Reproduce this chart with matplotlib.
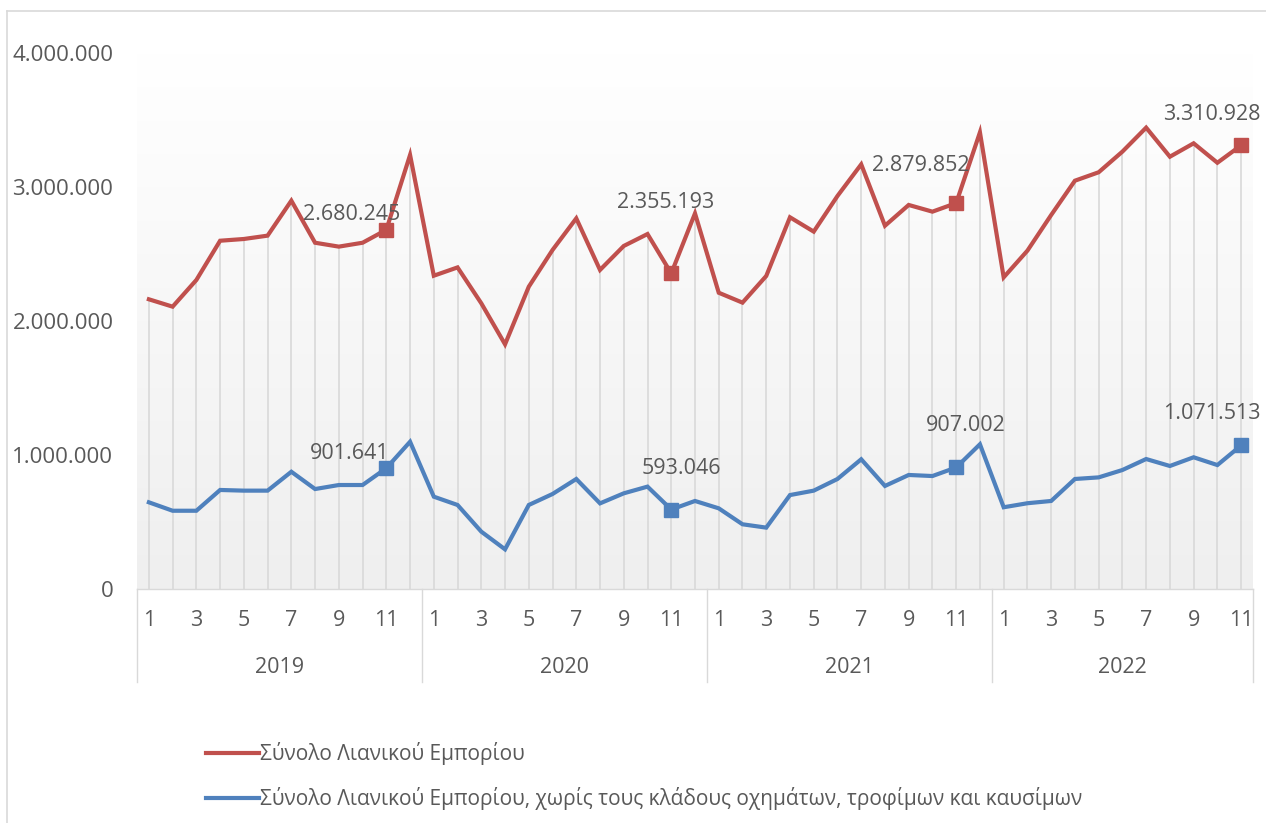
import matplotlib
matplotlib.use("Agg")
import matplotlib.pyplot as plt
import numpy as np
from matplotlib.colors import LinearSegmentedColormap
from matplotlib.lines import Line2D

plt.rcParams["font.family"] = ["Open Sans", "DejaVu Sans"]

# Monthly values, Jan 2019 - Nov 2022
years = ["2019", "2020", "2021", "2022"]
months_per_year = [12, 12, 12, 11]

total_retail = [
    2162000, 2107000, 2306000, 2599000, 2612000, 2637000, 2898000, 2584000, 2555000, 2584000, 2680245, 3239000,
    2338000, 2400000, 2132000, 1826000, 2256000, 2530000, 2766000, 2381000, 2560000, 2649000, 2355193, 2803000,
    2211000, 2137000, 2336000, 2774000, 2667000, 2933000, 3169000, 2711000, 2866000, 2816000, 2879852, 3408000,
    2326000, 2525000, 2791000, 3047000, 3110000, 3264000, 3443000, 3226000, 3326000, 3181000, 3310928,
]
retail_excl = [
    647000, 584000, 584000, 739000, 734000, 734000, 875000, 746000, 776000, 776000, 901641, 1099000,
    689000, 627000, 428000, 296000, 627000, 709000, 821000, 639000, 714000, 764000, 593046, 657000,
    602000, 483000, 458000, 701000, 734000, 821000, 968000, 769000, 851000, 843000, 907002, 1080000,
    610000, 640000, 657000, 821000, 833000, 888000, 970000, 918000, 983000, 925000, 1071513,
]
labels = [
    "Σύνολο Λιανικού Εμπορίου",
    "Σύνολο Λιανικού Εμπορίου, χωρίς τους κλάδους οχημάτων, τροφίμων και καυσίμων",
]
y_ticks = [0, 1000000, 2000000, 3000000, 4000000]

# November of each year gets a marker and a value label
highlight_idx = [10, 22, 34, 46]
red_offsets = [(-35, 15), (-6, 71), (-35, 38), (-29, 31)]
blue_offsets = [(-37, 15), (10, 41), (10, 42), (-29, 32)]

RED = "#c0504d"
BLUE = "#4f81bd"
GRID = "#d9d9d9"
TEXT = "#595959"
FS = 15.5


def fmt(v):
    return f"{v:,.0f}".replace(",", ".")


W, H = 1266, 823
fig = plt.figure(figsize=(W / 100, H / 100), dpi=100)
ax = fig.add_axes([137 / W, (H - 589) / H, (1253 - 137) / W, (589 - 53) / H])

n = len(total_retail)
x = np.arange(n)
month_nums = [m + 1 for y, c in zip(years, months_per_year) for m in range(c)]

# soft vertical gradient in the plot area
grad = np.linspace(0, 1, 256).reshape(-1, 1)
cmap = LinearSegmentedColormap.from_list("bg", ["#efefef", "#ffffff"])
ax.imshow(grad, extent=[0, 1, 0, 1], transform=ax.transAxes, cmap=cmap,
          aspect="auto", origin="lower", zorder=0)

ax.vlines(x, 0, total_retail, color=GRID, lw=1.2, zorder=1)
ax.plot(x, total_retail, color=RED, lw=3.0, solid_joinstyle="miter", zorder=3, label=labels[0])
ax.plot(x, retail_excl, color=BLUE, lw=3.0, solid_joinstyle="miter", zorder=3, label=labels[1])

for series, color, offs in [(total_retail, RED, red_offsets), (retail_excl, BLUE, blue_offsets)]:
    hx = [x[i] for i in highlight_idx]
    hy = [series[i] for i in highlight_idx]
    ax.plot(hx, hy, ls="none", marker="s", ms=10, color=color, zorder=4)
    for xi, yi, off in zip(hx, hy, offs):
        ax.annotate(fmt(yi), (xi, yi), xytext=off, textcoords="offset pixels",
                    ha="center", va="center", fontsize=FS, color=TEXT, zorder=5)

ax.set_xlim(-0.5, n - 0.5)
ax.set_ylim(0, 4000000)
ax.set_yticks(y_ticks)
ax.set_yticklabels([fmt(v) for v in y_ticks], fontsize=FS + 0.5, color=TEXT)
ax.tick_params(axis="y", length=0, pad=17)
ax.set_xticks([])
for s in ["top", "right", "left"]:
    ax.spines[s].set_visible(False)
ax.spines["bottom"].set_color(GRID)
ax.spines["bottom"].set_linewidth(1.0)

# two-level category axis: months, then years
tr = ax.get_xaxis_transform()
for xi, m in zip(x, month_nums):
    if m % 2 == 1:
        ax.text(xi, -0.058, str(m), transform=tr, ha="center", va="center",
                fontsize=FS, color=TEXT)
start = 0
bounds = [-0.5]
for yr, c in zip(years, months_per_year):
    end = start + c
    ax.text((start - 0.5 + end - 0.5) / 2, -0.146, yr, transform=tr, ha="center",
            va="center", fontsize=FS, color=TEXT)
    bounds.append(min(end - 0.5, n - 0.5))
    start = end
for b in bounds:
    ax.plot([b, b], [0, -0.174], transform=tr, color=GRID, lw=1.0, clip_on=False)

leg = ax.legend(loc="upper left", bbox_to_anchor=(196 / W, 1 - 732 / H),
                bbox_transform=fig.transFigure, frameon=False, fontsize=15,
                handlelength=2.5, handletextpad=0.05, labelspacing=1.05, borderpad=0)
for t in leg.get_texts():
    t.set_color(TEXT)

# chart-area border (left and top edges)
fig.add_artist(Line2D([7 / W, 7 / W], [0, 1 - 11 / H], transform=fig.transFigure, color=GRID, lw=1.2))
fig.add_artist(Line2D([7 / W, 1], [1 - 11 / H, 1 - 11 / H], transform=fig.transFigure, color=GRID, lw=1.2))

fig.savefig("out.png", dpi=100)
